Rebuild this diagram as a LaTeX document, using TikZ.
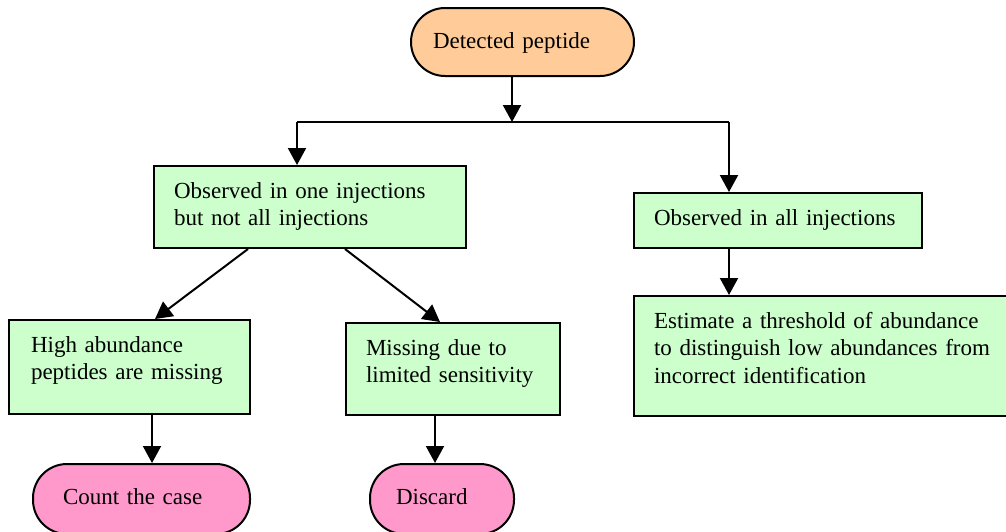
\documentclass[tikz,border=0pt]{standalone}
\usepackage{fontspec}
\setmainfont{Liberation Serif}
\usetikzlibrary{arrows.meta,calc}
\definecolor{peach}{HTML}{FFCC99}
\definecolor{mint}{HTML}{CCFFCC}
\definecolor{rose}{HTML}{FF99CC}
\tikzset{
  base/.style={draw=black, line width=2pt, anchor=north west, inner ysep=0pt,
    align=left, font=\fontsize{23}{27.5}\selectfont, text height=32pt},
  stepbox/.style={base, rectangle, fill=mint, inner xsep=20pt},
  terminal/.style={base, rectangle, rounded corners=34pt, text height=40pt},
  arr/.style={line width=2pt, -{Triangle[width=18pt,length=17pt]}},
  link/.style={line width=2pt}
}
\begin{document}
\begin{tikzpicture}[x=1pt,y=-1pt]
\useasboundingbox (0,0) rectangle (1006,531);

% start and end terminals
\node[terminal, fill=peach, inner xsep=22pt, text width=179pt, text depth=28pt] (start) at (410,7) {Detected peptide};
\node[terminal, fill=rose, inner xsep=30pt, text width=157pt, text depth=30pt] (count) at (32,463) {Count the case};
\node[terminal, fill=rose, inner xsep=26pt, text width=92pt, text depth=30pt] (discard) at (369,463) {Discard};

% process boxes
\node[stepbox, text width=272pt, text depth=50pt] (obs1) at (153,165) {Observed in one injections\\but not all injections};
\node[stepbox, text width=248pt, text depth=23pt] (obs2) at (633,192) {Observed in all injections};
\node[stepbox, text width=360pt, text depth=88pt] (est) at (633,295) {Estimate a threshold of abundance\\to distinguish low abundances from\\incorrect identification};
\node[stepbox, inner xsep=22pt, text width=197pt, text depth=62pt] (high) at (8,319) {High abundance\\peptides are missing};
\node[stepbox, text width=174pt, text depth=60pt] (miss) at (345,322) {Missing due to\\limited sensitivity};

% branching bar below the start terminal
\coordinate (split) at (512,122);
\coordinate (bl) at (297,122);
\coordinate (br) at (729,122);
\draw[arr] (split |- start.south) -- (split);
\draw[link] (bl) -- (br);
\draw[arr] (bl) -- (bl |- obs1.north);
\draw[arr] (br) -- (br |- obs2.north);
\draw[arr] (obs2.south -| br) -- (est.north -| br);

% diagonal branches
\draw[arr] ($(obs1.south west)+(95,0)$) -- ($(high.north west)+(147,0)$);
\draw[arr] ($(obs1.south west)+(192,0)$) -- ($(miss.north west)+(95,0)$);

% outcomes
\draw[arr] ($(high.south west)+(144,0)$) coordinate (hc) -- (hc |- count.north);
\draw[arr] ($(miss.south west)+(90,0)$) coordinate (mc) -- (mc |- discard.north);
\end{tikzpicture}
\end{document}
